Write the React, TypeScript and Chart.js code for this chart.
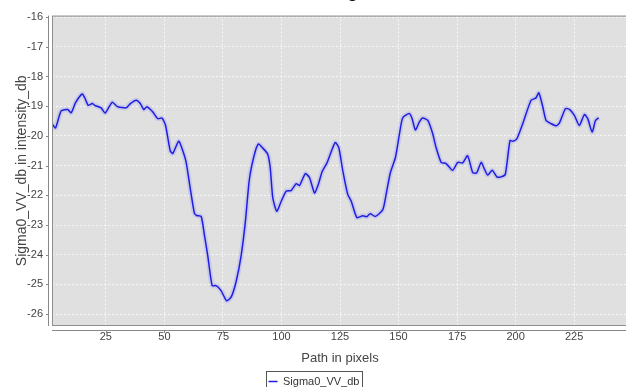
import React, { useEffect, useRef } from "react";
import { Chart, registerables } from "chart.js";

Chart.register(...registerables);

// ---- data ----
const pathX = [
  2, 3.5, 5.9, 8.7, 10.2, 12, 14.9, 16, 17.5, 19.2, 20.2, 23, 24.7, 27.7, 30.1, 33.7, 35.5, 38,
  39.7, 41.2, 42.5, 45, 47.2, 49, 50.5, 52.5, 53.6, 56.1, 57.6, 59.3, 61, 62.8, 63.8, 65.7, 67.1,
  68.5, 70.4, 72.1, 74.2, 76.6, 78.5, 80.6, 82.8, 84.6, 86.3, 88.5, 90.2, 92, 94.1, 95.2, 96.3, 98,
  99.9, 102, 104.1, 106.3, 107.7, 110.2, 112, 114.1, 115.5, 117.4, 119.5, 121.4, 123, 124.5, 126.2,
  128.3, 129.8, 132.2, 134.7, 136.4, 137.9, 140.1, 143.3, 144.7, 146.5, 148.7, 150.4, 151.8, 154.6,
  155.8, 157.2, 158.9, 160.3, 162.5, 164.6, 166, 168.2, 170.3, 173.1, 175.3, 177.4, 179.5, 181.7,
  183.4, 185.3, 186.7, 188.1, 190, 192, 193.8, 195.6, 197.6, 198.8, 200.5, 203.3, 206.6, 208.7,
  209.9, 211.6, 213, 215.2, 217.3, 218.7, 221.3, 223, 225.1, 227.2, 229.4, 230.8, 232.7, 234.1, 235.5,
];

const sigma0VVdb = [
  -19.59, -19.73, -19.16, -19.11, -19.22, -18.89, -18.59, -18.72, -18.97, -18.91, -18.97, -19.06,
  -19.23, -18.87, -19.02, -19.05, -18.91, -18.8, -18.91, -19.11, -19.02, -19.19, -19.42, -19.4,
  -19.65, -20.5, -20.59, -20.18, -20.44, -20.89, -21.75, -22.6, -22.68, -22.71, -23.34, -24.02,
  -25.04, -25.04, -25.21, -25.55, -25.43, -24.92, -24.02, -22.88, -21.46, -20.61, -20.27, -20.41,
  -20.61, -21.07, -22.09, -22.54, -22.2, -21.86, -21.84, -21.61, -21.67, -21.27, -21.41, -21.92,
  -21.69, -21.2, -20.9, -20.5, -20.22, -20.4, -21.18, -21.97, -22.2, -22.75, -22.69, -22.72, -22.62,
  -22.71, -22.48, -21.97, -21.24, -20.72, -19.93, -19.39, -19.25, -19.42, -19.8, -19.53, -19.4,
  -19.48, -19.93, -20.38, -20.89, -20.93, -21.16, -20.89, -20.91, -20.67, -21.24, -21.24, -20.89,
  -21.12, -21.32, -21.16, -21.38, -21.38, -21.29, -20.16, -20.18, -20.1, -19.53, -18.8, -18.72,
  -18.55, -19.02, -19.48, -19.59, -19.66, -19.57, -19.08, -19.11, -19.31, -19.65, -19.28, -19.42,
  -19.87, -19.48, -19.39,
];

const xTickValues = [25, 50, 75, 100, 125, 150, 175, 200, 225];
const yTickValues = [-16, -17, -18, -19, -20, -21, -22, -23, -24, -25, -26];

const seriesName = "Sigma0_VV_db";
const chartTitle = "Sigma0_VV_db";
const xAxisTitle = "Path in pixels";
const yAxisTitle = "Sigma0_VV_db in intensity_db";

const FONT = "'Liberation Sans', Arial, sans-serif";

const framePlugin = {
  id: "frame",
  beforeDraw(chart: any) {
    const { ctx, chartArea: a } = chart;
    ctx.save();
    ctx.fillStyle = "#e0e0e0";
    ctx.fillRect(a.left, a.top, a.right - a.left, a.bottom - a.top);
    ctx.restore();
  },
  afterDraw(chart: any) {
    const { ctx, chartArea: a, scales } = chart;
    ctx.save();
    // plot outline
    ctx.strokeStyle = "#8e8e8e";
    ctx.lineWidth = 1;
    ctx.strokeRect(a.left + 0.5, a.top + 0.5, a.right - a.left - 1, a.bottom - a.top - 1);
    // offset axis lines with small tick marks
    ctx.strokeStyle = "#888888";
    ctx.beginPath();
    const ax = a.left - 3.5;
    ctx.moveTo(ax, a.top);
    ctx.lineTo(ax, a.bottom);
    scales.y.ticks.forEach((t: any) => {
      const p = Math.round(scales.y.getPixelForValue(t.value)) + 0.5;
      ctx.moveTo(ax - 2.5, p);
      ctx.lineTo(ax, p);
    });
    const ay = a.bottom + 4.5;
    ctx.moveTo(a.left, ay);
    ctx.lineTo(a.right, ay);
    scales.x.ticks.forEach((t: any) => {
      const p = Math.round(scales.x.getPixelForValue(t.value)) + 0.5;
      ctx.moveTo(p, ay);
      ctx.lineTo(p, ay + 2.5);
    });
    ctx.stroke();
    // legend frame
    const hb = chart.legend && chart.legend.legendHitBoxes && chart.legend.legendHitBoxes[0];
    if (hb) {
      ctx.strokeStyle = "#555555";
      ctx.strokeRect(Math.round(hb.left - 3) + 0.5, Math.round(hb.top - 5) + 0.5, Math.round(hb.width + 5), 40);
    }
    // title (cut off by the top edge, as in the reference)
    ctx.fillStyle = "#000000";
    ctx.font = "bold 18px " + FONT;
    ctx.textAlign = "left";
    ctx.textBaseline = "alphabetic";
    ctx.fillText(chartTitle, 330, -3);
    ctx.restore();
  },
};

export default function App() {
  const canvasRef = useRef<HTMLCanvasElement>(null);

  useEffect(() => {
    if (!canvasRef.current) return;
    const points = pathX.map((x, i) => ({ x, y: sigma0VVdb[i] }));
    const chart = new Chart(canvasRef.current, {
      type: "line",
      data: {
        datasets: [
          {
            label: seriesName,
            data: points,
            borderColor: "rgb(30,30,225)",
            backgroundColor: "rgb(30,30,225)",
            borderWidth: 1.5,
            pointRadius: 0,
            tension: 0.2,
          },
          {
            label: seriesName + " band",
            data: points,
            borderColor: "rgba(120,120,255,0.22)",
            borderWidth: 5,
            pointRadius: 0,
            tension: 0.2,
          },
        ],
      },
      plugins: [framePlugin],
      options: {
        animation: false,
        responsive: false,
        devicePixelRatio: 1,
        layout: { padding: { top: 13, right: 12, left: 0, bottom: 0 } },
        font: { family: FONT },
        plugins: {
          title: { display: false },
          tooltip: { enabled: false },
          legend: {
            display: true,
            position: "bottom",
            labels: {
              usePointStyle: true,
              pointStyle: "line",
              pointStyleWidth: 9,
              padding: 6,
              color: "#333333",
              font: { family: FONT, size: 11 },
              filter: (item: any) => item.datasetIndex === 0,
            },
          },
        },
        scales: {
          x: {
            type: "linear",
            min: 2,
            max: 248,
            afterFit: (s: any) => {
              s.height = 44;
            },
            afterBuildTicks: (s: any) => {
              s.ticks = xTickValues.map((v) => ({ value: v }));
            },
            ticks: {
              color: "#444444",
              font: { family: FONT, size: 11 },
              padding: 4,
              maxRotation: 0,
            },
            grid: { color: "rgba(255,255,255,0.75)", lineWidth: 1, drawTicks: false },
            border: { display: false, dash: [2, 2] },
            title: {
              display: true,
              text: xAxisTitle,
              color: "#444444",
              font: { family: FONT, size: 13 },
              padding: { top: 0, bottom: 4 },
            },
          },
          y: {
            type: "linear",
            min: -26.4,
            max: -15.95,
            afterFit: (s: any) => {
              s.width = 52;
            },
            afterBuildTicks: (s: any) => {
              s.ticks = yTickValues.map((v) => ({ value: v }));
            },
            ticks: {
              color: "#444444",
              font: { family: FONT, size: 11 },
              padding: 9,
            },
            grid: { color: "rgba(255,255,255,0.75)", lineWidth: 1, drawTicks: false },
            border: { display: false, dash: [2, 2] },
            title: {
              display: true,
              text: yAxisTitle,
              color: "#444444",
              font: { family: FONT, size: 14 },
              padding: { top: 14, bottom: 0 },
            },
          },
        },
      },
    } as any);
    return () => chart.destroy();
  }, []);

  return (
    <div style={{ position: "fixed", left: 0, top: 0, width: 626, height: 387, overflow: "hidden", background: "#ffffff" }}>
      <canvas ref={canvasRef} width={640} height={397} style={{ display: "block" }} />
    </div>
  );
}
